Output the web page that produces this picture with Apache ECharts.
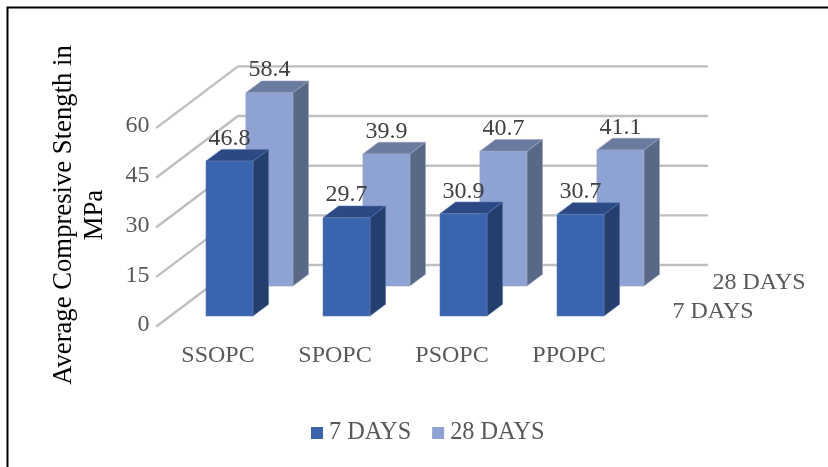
<!DOCTYPE html>
<html>
<head>
<meta charset="utf-8">
<style>html,body{margin:0;padding:0;background:#fff}#chart{width:828px;height:467px}</style>
<script src="https://cdn.jsdelivr.net/npm/echarts@6/dist/echarts.min.js"></script>
</head>
<body>
<div id="chart"></div>
<script>
const categories = ['SSOPC', 'SPOPC', 'PSOPC', 'PPOPC'];
const days7 = [46.8, 29.7, 30.9, 30.7];
const days28 = [58.4, 39.9, 40.7, 41.1];
const yTicks = [0, 15, 30, 45, 60];
const seriesNames = ['7 DAYS', '28 DAYS'];
const yTitle = 'Average Compresive Stength in\nMPa';

const serif = '"Liberation Serif", "Times New Roman", serif';
const DEPTH = { dx: 15.6, dy: -11.7 };
const BAR_WIDTH = 47;

// One extruded column: front, side and top faces plus its value label.
function barRenderer(shift, colors) {
  return function (params, api) {
    const v = api.value(1);
    const base = api.coord([api.value(0), 0]);
    const top = api.coord([api.value(0), v]);
    const xl = base[0] - BAR_WIDTH / 2 + shift.x;
    const xr = xl + BAR_WIDTH;
    const yb = base[1] + shift.y;
    const yt = top[1] + shift.y;
    const { dx, dy } = DEPTH;
    return {
      type: 'group',
      children: [
        { type: 'polygon', shape: { points: [[xr, yb], [xr + dx, yb + dy], [xr + dx, yt + dy], [xr, yt]] },
          style: { fill: colors.side, stroke: colors.edge, lineWidth: 0.6 } },
        { type: 'polygon', shape: { points: [[xl, yt], [xl + dx, yt + dy], [xr + dx, yt + dy], [xr, yt]] },
          style: { fill: colors.top, stroke: colors.edge, lineWidth: 0.6 } },
        { type: 'rect', shape: { x: xl, y: yt, width: BAR_WIDTH, height: yb - yt },
          style: { fill: colors.front, stroke: colors.edge, lineWidth: 0.6 } },
        { type: 'text', z2: 10, style: { x: (xl + xr) / 2, y: yt - 22.5, text: String(v), fill: '#404040',
          font: '24px ' + serif, align: 'center', verticalAlign: 'middle' } }
      ]
    };
  };
}

// Floor-to-wall gridline for one tick: diagonal up the side wall, then along the back wall.
function gridRenderer(params, api) {
  const y = api.coord([0, api.value(0)])[1];
  const x = params.coordSys.x;
  return {
    type: 'polyline',
    shape: { points: [[x - 14, y + 10], [x + 67, y - 51], [x + 536, y - 51]] },
    style: { fill: 'none', stroke: '#BFBFBF', lineWidth: 2.4, lineCap: 'round', lineJoin: 'round' }
  };
}

const chart = echarts.init(document.getElementById('chart'), null, { renderer: 'canvas' });
chart.setOption({
  animation: false,
  backgroundColor: '#fff',
  grid: [
    { left: 171, top: 117.4, width: 468, height: 198.6 },
    { left: 159.5, top: 126, width: 468, height: 199 }
  ],
  xAxis: [
    { type: 'category', data: categories, gridIndex: 0, show: false },
    { type: 'category', data: categories, gridIndex: 1,
      axisLine: { show: false }, axisTick: { show: false },
      axisLabel: { margin: 19, color: '#595959', fontFamily: serif, fontSize: 24 } }
  ],
  yAxis: [
    { type: 'value', min: 0, max: 60, interval: 15, gridIndex: 0, show: false },
    { type: 'value', min: 0, max: 60, interval: 15, gridIndex: 1,
      axisLine: { show: false }, axisTick: { show: false }, splitLine: { show: false },
      axisLabel: { margin: 10, color: '#595959', fontFamily: serif, fontSize: 24 } }
  ],
  legend: {
    data: seriesNames, left: 311, top: 421, itemWidth: 12, itemHeight: 12, itemGap: 21,
    icon: 'rect', padding: 0,
    textStyle: { color: '#595959', fontFamily: serif, fontSize: 24.3, padding: [0, 0, 0, 1] }
  },
  series: [
    { type: 'custom', name: 'gridlines', xAxisIndex: 0, yAxisIndex: 0, silent: true, z: 1,
      renderItem: gridRenderer, data: yTicks.map(t => [t]), encode: { y: 0 } },
    { type: 'custom', name: seriesNames[1], xAxisIndex: 0, yAxisIndex: 0, z: 2,
      itemStyle: { color: '#8FA2D4' },
      renderItem: barRenderer({ x: 39.9, y: -30 }, { front: '#8FA2D4', side: '#5A6888', top: '#6B7BA0', edge: '#9AA3BC' }),
      data: days28.map((v, i) => [i, v]), encode: { x: 0, y: 1 } },
    { type: 'custom', name: seriesNames[0], xAxisIndex: 0, yAxisIndex: 0, z: 3,
      itemStyle: { color: '#3A64AD' },
      renderItem: barRenderer({ x: 0, y: 0 }, { front: '#3A64AD', side: '#243F6E', top: '#2B4A85', edge: '#5C7AB0' }),
      data: days7.map((v, i) => [i, v]), encode: { x: 0, y: 1 } }
  ],
  graphic: [
    // Frame: only the top and left edges fall inside the page.
    { type: 'polyline', z: 100, silent: true, shape: { points: [[828, 7.5], [7.5, 7.5], [7.5, 467]] },
      style: { fill: 'none', stroke: '#000', lineWidth: 2 } },
    { type: 'text', z: 100, x: 79, y: 215, rotation: Math.PI / 2,
      style: { text: yTitle, fill: '#000', font: '26.7px ' + serif, lineHeight: 31, align: 'center', verticalAlign: 'middle' } },
    { type: 'text', z: 100, x: 759, y: 283,
      style: { text: seriesNames[1], fill: '#595959', font: '24px ' + serif, align: 'center', verticalAlign: 'middle' } },
    { type: 'text', z: 100, x: 713, y: 312,
      style: { text: seriesNames[0], fill: '#595959', font: '24px ' + serif, align: 'center', verticalAlign: 'middle' } }
  ]
});
</script>
</body>
</html>
